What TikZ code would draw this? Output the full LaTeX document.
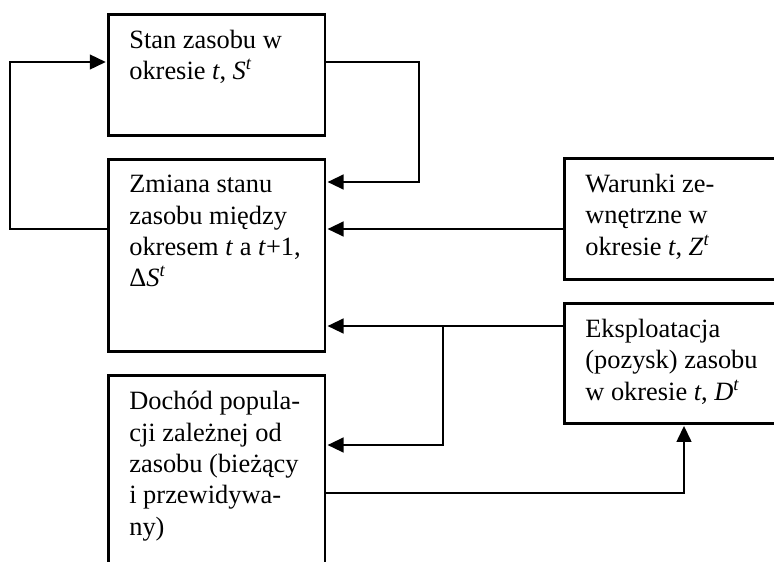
\documentclass[tikz,border=0pt]{standalone}
\usepackage{fontspec}
\setmainfont{Liberation Serif}
\usetikzlibrary{arrows.meta,calc}

\newcommand{\tresc}[3]{\parbox[t][#2][t]{#1}{\raggedright #3}}

\tikzset{
  blok/.style={draw, line width=2pt, anchor=north west, inner xsep=15.75pt, inner ysep=12pt,
    font=\fontsize{19.8}{23.5}\selectfont},
  linia/.style={line width=1.7pt},
  lacz/.style={linia, -{Triangle[length=12pt,width=11pt]}, shorten >=0.9pt}
}

\begin{document}
\begin{tikzpicture}[x=0.75pt,y=0.75pt,yscale=-1,xscale=1]
\useasboundingbox (0,0) rectangle (774,561);
\clip (0,0) rectangle (774,561);

% Bloki
\node[blok] (stan) at (107,13) {\tresc{131pt}{66.75pt}{Stan zasobu w\\ okresie \textit{t}, \textit{S}\textsuperscript{\textit{t}}}};
\node[blok] (zmiana) at (107,158) {\tresc{131pt}{120pt}{Zmiana stanu\\ zasobu między\\ okresem \textit{t} a \textit{t}+1,\\ Δ\textit{S}\textsuperscript{\textit{t}}}};
\node[blok] (dochod) at (107,374) {\tresc{131pt}{200pt}{Dochód popula-\\ cji zależnej od\\ zasobu (bieżący\\ i przewidywa-\\ ny)}};
\node[blok] (warunki) at (563,157) {\tresc{190pt}{66.75pt}{Warunki ze-\\ wnętrzne w\\ okresie \textit{t}, \textit{Z}\textsuperscript{\textit{t}}}};
\node[blok] (eksp) at (563,302) {\tresc{190pt}{66pt}{Eksploatacja\\ (pozysk) zasobu\\ w okresie \textit{t}, \textit{D}\textsuperscript{\textit{t}}}};

% Polaczenia
\draw[lacz] ($(zmiana.north west)+(0,71)$) -- (10,229) |- ($(stan.north west)+(0,49)$);
\draw[lacz] ($(stan.north east)+(0,49)$) -| (419,182) -- ($(zmiana.north east)+(0,24)$);

\coordinate (w) at ($(warunki.north west)+(0,72)$);
\draw[lacz] (w) -- (zmiana.east |- w);

\coordinate (e) at ($(eksp.north west)+(0,24)$);
\coordinate (rozg) at (443,326);
\draw[linia] (e) -- (rozg);
\draw[lacz] (rozg) -- (zmiana.east |- rozg);
\draw[lacz] (rozg) |- ($(dochod.north east)+(0,71)$);

\coordinate (d) at ($(dochod.north east)+(0,119)$);
\draw[lacz] (d) -| ($(eksp.south west)+(121,0)$);

\end{tikzpicture}
\end{document}
